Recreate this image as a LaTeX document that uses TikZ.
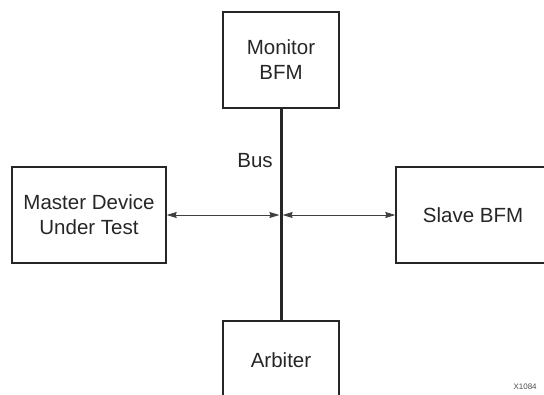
\documentclass[tikz,border=0pt]{standalone}
\usepackage{fontspec}
\setmainfont{Liberation Sans}
\usetikzlibrary{arrows.meta}

\begin{document}
\begin{tikzpicture}[x=1pt,y=-1pt,
    blockbox/.style={draw=black!85, line width=1.4pt, minimum width=116pt, minimum height=96pt,
      inner sep=0pt, align=center, font=\fontsize{20.5}{25}\selectfont, text=black!85},
    link/.style={{Stealth[length=10pt,width=6pt,inset=1pt]}-{Stealth[length=10pt,width=6pt,inset=1pt]}, draw=black!75, line width=0.8pt}]
    \useasboundingbox (0,0) rectangle (544,394);
    \clip (0,0) rectangle (544,394);

    % Draw the blocks
    \node[blockbox] (monitor) at (281,60) {Monitor\\BFM};
    \node[blockbox, minimum width=154pt] (master) at (89,215) {Master Device\\Under Test};
    \node[blockbox, minimum width=154pt] (slave) at (473,215) {Slave BFM};
    \node[blockbox, minimum height=78pt] (arbiter) at (281,360) {Arbiter};

    % Bus line
    \draw[line width=3pt, black!85] (monitor.south) -- (arbiter.north);
    \coordinate (hub) at (monitor.south |- master.east);
    \node[font=\fontsize{20.5}{25}\selectfont, text=black!85] (buslabel) at (255,161) {Bus};

    % Links to the bus
    \draw[link] (master.east) -- ([xshift=-1.6pt]hub);
    \draw[link] ([xshift=1.6pt]hub) -- (slave.west);

    \node[font=\fontsize{8}{9}\selectfont, text=black!70, anchor=west] (tag) at (510,387) {X1084};
\end{tikzpicture}
\end{document}
